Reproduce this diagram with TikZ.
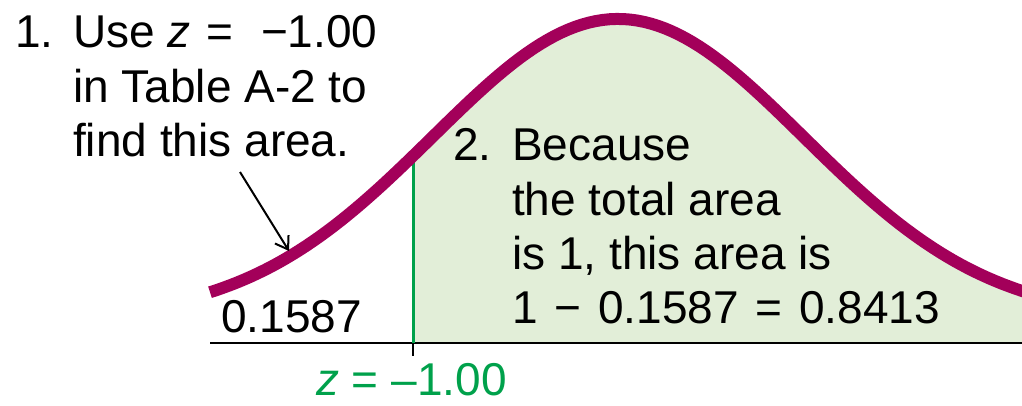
\documentclass[tikz,border=0pt]{standalone}
\usepackage{fontspec}
\setmainfont{Liberation Sans}
\usetikzlibrary{arrows.meta}
\definecolor{curvecol}{HTML}{A3005A}
\definecolor{areacol}{HTML}{E2EED8}
\definecolor{zgreen}{HTML}{00A14B}
\begin{document}
\begin{tikzpicture}[x=1pt,y=-1pt,
  lbl/.style={anchor=base west, inner sep=0pt, font=\fontsize{46}{55}\selectfont},
  glbl/.style={lbl, text=zgreen},
  curvestyle/.style={draw=curvecol, line width=12pt},
  axisstyle/.style={draw=black, line width=2.5pt},
  zline/.style={draw=zgreen, line width=3pt},
  pointer/.style={draw=black, line width=2pt, -{Straight Barb[length=12pt,width=16pt,line width=2pt]}}]
\useasboundingbox (0,0) rectangle (1022,406);
% shaded area right of z = -1
\fill[areacol] (413,343) -- plot[domain=413:1030,samples=80] (\x,{319-300*exp(-0.5*((\x-618)/185.6)^2)}) -- (1030,343) -- cycle;
% axis and tick
\coordinate (axL) at (210,343);
\coordinate (axR) at (1030,343);
\draw[axisstyle] (axL) -- (axR);
\coordinate (tickT) at (413,333);
\coordinate (tickB) at (413,356);
\draw[axisstyle, line width=2pt] (tickT) -- (tickB);
% z line
\coordinate (zB) at (413,343);
\coordinate (zT) at (413,150);
\draw[zline] (zB) -- (zT);
% curve
\draw[curvestyle] plot[domain=210:1030,samples=120] (\x,{319-300*exp(-0.5*((\x-618)/185.6)^2)});
% texts
\node[lbl] (n1) at (15,48) {1.};
\node[lbl] (t1a) at (73,48) {Use \textit{z}\,\,=\,\, −1.00};
\node[lbl] (t1b) at (73,103) {in Table A-2 to};
\node[lbl] (t1c) at (73,157) {find this area.};
\node[lbl] (n2) at (453,161) {2.};
\node[lbl] (t2a) at (512,161) {Because};
\node[lbl] (t2b) at (512,215) {the total area};
\node[lbl] (t2c) at (512,269) {is 1, this area is};
\node[lbl] (t2d) at (512,323) {1\hspace{4pt} −\hspace{4pt} 0.1587\hspace{4pt} =\hspace{4pt} 0.8413};
\node[lbl] (left) at (221,332) {0.1587};
\node[glbl] (zlab) at (316,395) {\textit{z} = –1.00};
% pointer arrow
\coordinate (arrS) at (240,172);
\coordinate (arrE) at (289,251);
\draw[pointer] (arrS) -- (arrE);
\end{tikzpicture}
\end{document}
